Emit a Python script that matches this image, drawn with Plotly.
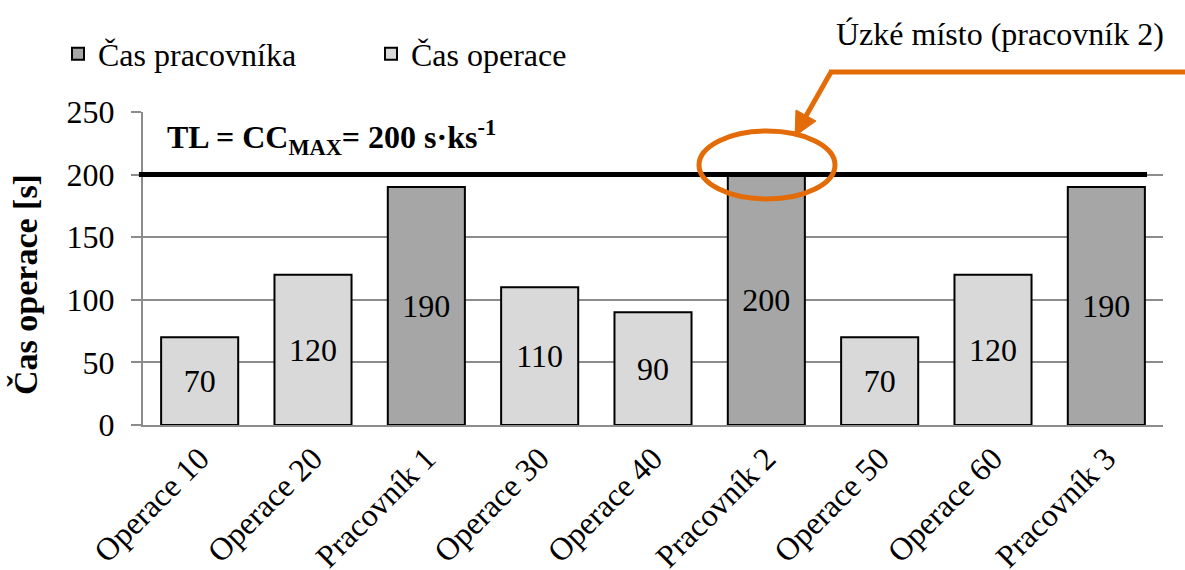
import plotly.graph_objects as go

# Categories along the line and their times [s]
categories = ["Operace 10", "Operace 20", "Pracovník 1", "Operace 30", "Operace 40",
              "Pracovník 2", "Operace 50", "Operace 60", "Pracovník 3"]
operace = ["Operace 10", "Operace 20", "Operace 30", "Operace 40", "Operace 50", "Operace 60"]
cas_operace = [70, 120, 110, 90, 70, 120]
pracovnici = ["Pracovník 1", "Pracovník 2", "Pracovník 3"]
cas_pracovnika = [190, 200, 190]
takt_limit = 200
y_ticks = [0, 50, 100, 150, 200, 250]

FONT = "Liberation Serif"
FS = 32
DARK = "#A6A6A6"
LIGHT = "#D9D9D9"
ORANGE = "#E36C09"
GRID = "#8C8C8C"

# plot area in pixels (left, right, top, bottom)
PL, PR, PT, PB = 143, 1163, 112, 425


def px(x, y):
    """Pixel position -> paper coordinates."""
    return (x - PL) / (PR - PL), (PB - y) / (PB - PT)


fig = go.Figure()
fig.add_trace(go.Bar(
    x=pracovnici, y=cas_pracovnika, name="Čas pracovníka",
    marker=dict(color=DARK, line=dict(color="black", width=2)),
    text=[str(v) for v in cas_pracovnika], textposition="inside", insidetextanchor="middle",
    textfont=dict(family=FONT, size=FS, color="black"), constraintext="none",
    width=0.68,
))
fig.add_trace(go.Bar(
    x=operace, y=cas_operace, name="Čas operace",
    marker=dict(color=LIGHT, line=dict(color="black", width=2)),
    text=[str(v) for v in cas_operace], textposition="inside", insidetextanchor="middle",
    textfont=dict(family=FONT, size=FS, color="black"), constraintext="none",
    width=0.68,
))

lx, ly = px(58, 54)
fig.update_layout(
    width=1185, height=570,
    margin=dict(l=PL, r=1185 - PR, t=PT, b=570 - PB),
    barmode="overlay",
    plot_bgcolor="white", paper_bgcolor="white",
    font=dict(family=FONT, size=FS, color="black"),
    legend=dict(
        orientation="h", x=lx, y=ly, xanchor="left", yanchor="middle",
        font=dict(family=FONT, size=FS), traceorder="normal",
        entrywidth=268, entrywidthmode="pixels", itemwidth=30,
        bgcolor="rgba(0,0,0,0)",
    ),
    xaxis=dict(
        type="category", categoryorder="array", categoryarray=categories,
        range=[-0.5, len(categories) - 0.5], automargin=False,
        tickangle=-45, showgrid=False,
        showline=True, linecolor=GRID, linewidth=2,
        tickfont=dict(family=FONT, size=FS),
    ),
    yaxis=dict(
        range=[0, 250], tickvals=y_ticks, showgrid=True, gridcolor=GRID, gridwidth=1.5,
        showline=True, linecolor=GRID, linewidth=2, automargin=False,
        ticks="outside", ticklen=10, tickcolor=GRID, tickwidth=1.5,
        ticklabelstandoff=10,
        tickfont=dict(family=FONT, size=FS), zeroline=False,
    ),
    showlegend=True,
)

# Takt limit line
x_end, _ = px(1147, 0)
fig.add_shape(type="line", xref="paper", yref="y",
              x0=-0.004, x1=x_end, y0=takt_limit, y1=takt_limit,
              line=dict(color="black", width=5))

# Bottleneck highlight: ellipse around the top of Pracovník 2
ex0, ey0 = px(699, 199)
ex1, ey1 = px(835, 131)
fig.add_shape(type="circle", xref="paper", yref="paper",
              x0=ex0, x1=ex1, y0=ey0, y1=ey1,
              line=dict(color=ORANGE, width=5))

# Callout leader: horizontal line, then arrow down to the ellipse
hx0, hy = px(829, 72)
hx1, _ = px(1190, 72)
fig.add_shape(type="line", xref="paper", yref="paper",
              x0=hx0, x1=hx1, y0=hy, y1=hy,
              line=dict(color=ORANGE, width=5))
tx, ty = px(831, 72)
bx, by = px(806, 116)
fig.add_shape(type="line", xref="paper", yref="paper",
              x0=tx, y0=ty, x1=bx, y1=by,
              line=dict(color=ORANGE, width=5))
p1 = px(795, 136)
p2 = px(816, 121)
p3 = px(796, 110)
fig.add_shape(type="path", xref="paper", yref="paper",
              path=f"M{p1[0]},{p1[1]} L{p2[0]},{p2[1]} L{p3[0]},{p3[1]} Z",
              fillcolor=ORANGE, line=dict(color=ORANGE, width=1))

yt = px(25, 285)
tl = px(165, 137)
uz = px(1166, 34)
fig.update_layout(annotations=[
    dict(text="<b>Čas operace [s]</b>", textangle=-90, xref="paper", yref="paper",
         x=yt[0], y=yt[1], xanchor="center", yanchor="middle", showarrow=False,
         font=dict(family=FONT, size=34, color="black")),
    dict(text="<b>TL = CC<sub>MAX</sub>= 200 s·ks<sup>-1</sup></b>",
         xref="paper", yref="paper", x=tl[0], y=tl[1], xanchor="left", yanchor="middle",
         showarrow=False, font=dict(family=FONT, size=FS, color="black")),
    dict(text="Úzké místo (pracovník 2)", xref="paper", yref="paper",
         x=uz[0], y=uz[1], xanchor="right", yanchor="middle", showarrow=False,
         font=dict(family=FONT, size=FS, color="black")),
])

fig.write_html("out.html")
